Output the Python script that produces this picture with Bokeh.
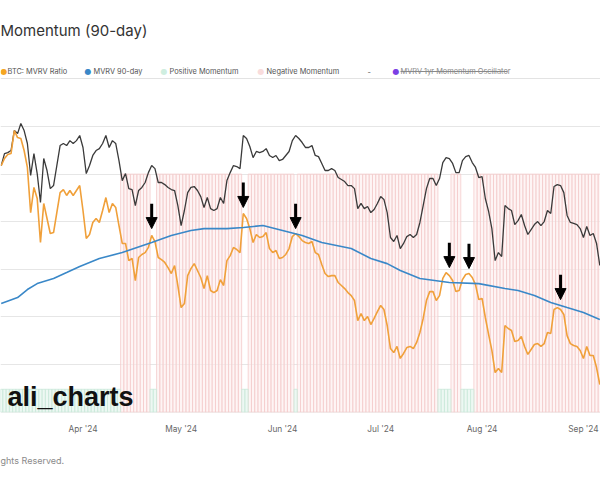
import numpy as np
import pandas as pd
from bokeh.plotting import figure
from bokeh.models import (ColumnDataSource, Range1d, Label, Arrow, NormalHead, Grid,
                          FixedTicker, MonthsTicker, DatetimeTickFormatter, Title)
from bokeh.embed import file_html
from bokeh.resources import INLINE

# ---------------- data ----------------
dates = pd.date_range("2024-03-07", periods=184, freq="D")

mvrv_ratio = [
    2.795, 2.832, 2.853, 2.858, 2.979, 2.942, 2.937, 2.874, 2.785, 2.548,
    2.680, 2.622, 2.391, 2.596, 2.517, 2.438, 2.443, 2.548, 2.653, 2.669,
    2.638, 2.664, 2.638, 2.664, 2.690, 2.559, 2.412, 2.433, 2.496, 2.517,
    2.496, 2.559, 2.627, 2.548, 2.596, 2.575, 2.480, 2.386, 2.386, 2.296,
    2.307, 2.191, 2.312, 2.328, 2.338, 2.365, 2.428, 2.396, 2.312, 2.301,
    2.286, 2.259, 2.228, 2.270, 2.165, 2.049, 2.070, 2.217, 2.254, 2.280,
    2.244, 2.207, 2.149, 2.217, 2.139, 2.128, 2.139, 2.196, 2.165, 2.296,
    2.322, 2.365, 2.354, 2.338, 2.543, 2.517, 2.464, 2.391, 2.433, 2.417,
    2.422, 2.443, 2.359, 2.338, 2.349, 2.307, 2.312, 2.328, 2.359, 2.422,
    2.438, 2.422, 2.401, 2.391, 2.386, 2.396, 2.338, 2.328, 2.275, 2.228,
    2.212, 2.217, 2.217, 2.181, 2.165, 2.149, 2.128, 2.112, 2.086, 1.981,
    2.018, 1.981, 2.002, 1.960, 1.992, 2.028, 2.060, 2.039, 1.955, 1.834,
    1.813, 1.845, 1.782, 1.808, 1.839, 1.845, 1.834, 1.866, 1.918, 1.992,
    2.086, 2.133, 2.133, 2.086, 2.112, 2.202, 2.233, 2.217, 2.191, 2.133,
    2.139, 2.196, 2.223, 2.228, 2.207, 2.170, 2.091, 2.097, 1.997, 1.908,
    1.824, 1.708, 1.729, 1.708, 1.955, 1.939, 1.929, 1.871, 1.876, 1.897,
    1.845, 1.803, 1.829, 1.855, 1.860, 1.845, 1.860, 1.918, 1.913, 2.039,
    2.049, 2.039, 2.013, 1.902, 1.860, 1.850, 1.845, 1.824, 1.782, 1.845,
    1.797, 1.797, 1.734, 1.645,
]

dark_series = [
    2.795, 2.858, 2.863, 2.874, 2.979, 2.963, 3.016, 2.979, 2.911, 2.743,
    2.858, 2.753, 2.601, 2.832, 2.769, 2.674, 2.690, 2.795, 2.900, 2.911,
    2.900, 2.926, 2.911, 2.926, 2.953, 2.890, 2.753, 2.795, 2.848, 2.874,
    2.884, 2.911, 2.953, 2.890, 2.926, 2.911, 2.821, 2.716, 2.753, 2.674,
    2.669, 2.585, 2.664, 2.680, 2.706, 2.758, 2.795, 2.779, 2.706, 2.706,
    2.695, 2.680, 2.669, 2.664, 2.585, 2.480, 2.559, 2.653, 2.680, 2.685,
    2.664, 2.632, 2.575, 2.627, 2.569, 2.559, 2.569, 2.627, 2.596, 2.716,
    2.758, 2.795, 2.790, 2.779, 2.953, 2.937, 2.895, 2.837, 2.869, 2.863,
    2.869, 2.884, 2.848, 2.837, 2.848, 2.821, 2.827, 2.848, 2.869, 2.926,
    2.953, 2.937, 2.916, 2.890, 2.890, 2.900, 2.848, 2.842, 2.806, 2.769,
    2.769, 2.779, 2.769, 2.732, 2.722, 2.711, 2.690, 2.690, 2.674, 2.569,
    2.596, 2.569, 2.580, 2.548, 2.564, 2.596, 2.632, 2.617, 2.548, 2.417,
    2.396, 2.428, 2.359, 2.386, 2.422, 2.433, 2.417, 2.433, 2.496, 2.585,
    2.674, 2.727, 2.727, 2.690, 2.727, 2.811, 2.837, 2.832, 2.806, 2.758,
    2.758, 2.821, 2.842, 2.848, 2.811, 2.785, 2.732, 2.737, 2.622, 2.554,
    2.464, 2.296, 2.338, 2.317, 2.585, 2.569, 2.559, 2.485, 2.506, 2.538,
    2.480, 2.433, 2.459, 2.485, 2.501, 2.480, 2.501, 2.559, 2.543, 2.685,
    2.695, 2.690, 2.653, 2.533, 2.496, 2.491, 2.485, 2.464, 2.417, 2.475,
    2.428, 2.438, 2.386, 2.270,
]

ma90_dates = ["2024-03-07", "2024-03-12", "2024-03-15", "2024-03-18", "2024-03-23",
              "2024-03-27", "2024-03-31", "2024-04-06", "2024-04-13", "2024-04-22",
              "2024-04-28", "2024-05-04", "2024-05-08", "2024-05-15", "2024-05-20",
              "2024-05-26", "2024-06-01", "2024-06-07", "2024-06-13", "2024-06-22",
              "2024-06-28", "2024-07-03", "2024-07-07", "2024-07-13", "2024-07-22",
              "2024-07-31", "2024-08-08", "2024-08-12", "2024-08-17", "2024-08-22",
              "2024-08-27", "2024-09-01", "2024-09-06"]
ma90_values = [2.070, 2.102, 2.144, 2.175, 2.202, 2.233, 2.265, 2.307, 2.338, 2.391,
               2.428, 2.454, 2.464, 2.464, 2.470, 2.480, 2.454, 2.428, 2.391, 2.359,
               2.307, 2.280, 2.244, 2.202, 2.181, 2.175, 2.149, 2.139, 2.112, 2.076,
               2.049, 2.023, 1.986]

positive_spans = [("2024-03-07", "2024-04-12"), ("2024-04-22", "2024-04-23"),
                  ("2024-05-20", "2024-05-21"), ("2024-06-05", "2024-06-05"),
                  ("2024-07-19", "2024-07-22"), ("2024-07-26", "2024-07-29")]

arrow_dates = ["2024-04-22", "2024-05-20", "2024-06-05", "2024-07-22", "2024-07-28", "2024-08-25"]
arrow_levels = [2.464, 2.575, 2.464, 2.259, 2.254, 2.091]

grid_levels = [1.5, 1.75, 2.0, 2.25, 2.5, 2.75, 3.0]
neg_bar_top = 2.75
pos_bar_top = 1.62
bar_base = 1.5

# ---------------- styles ----------------
ORANGE = "#f0a03a"
BLUE = "#3a88c8"
DARK = "#3a3a3a"
FONT = "Inter"

positive = np.zeros(len(dates), dtype=bool)
for s, e in positive_spans:
    positive |= (dates >= pd.Timestamp(s)) & (dates <= pd.Timestamp(e))

p = figure(width=600, height=484, x_axis_type="datetime", y_axis_location=None,
           output_backend="svg", toolbar_location=None,
           x_range=Range1d(pd.Timestamp("2024-03-06 18:43"), pd.Timestamp("2024-09-06 05:02")),
           y_range=Range1d(1.498, 3.662),
           min_border_left=0, min_border_right=0, min_border_top=0, min_border_bottom=72)
p.outline_line_color = None
p.background_fill_color = "white"
p.border_fill_color = "white"
p.xgrid.grid_line_color = None
p.ygrid.grid_line_color = None
p.add_layout(Grid(dimension=1, ticker=FixedTicker(ticks=grid_levels),
                  grid_line_color="#e6e6e6", grid_line_width=1))

xa = p.xaxis[0]
xa.ticker = MonthsTicker(months=list(range(12)))
xa.formatter = DatetimeTickFormatter(months="%b '%y", days="%b '%y")
xa.axis_line_color = None
xa.major_tick_line_color = None
xa.minor_tick_line_color = None
xa.major_tick_out = 0
xa.major_tick_in = 0
xa.major_label_standoff = 11
xa.major_label_text_font = FONT
xa.major_label_text_font_size = "8.3px"
xa.major_label_text_color = "#666666"

p.add_layout(Title(text="ghts Reserved.", align="left", text_font=FONT, text_font_size="9px",
                   text_color="#8a8a8a", text_font_style="normal", standoff=32), "below")

day_ms = 24 * 3600 * 1000
neg_src = ColumnDataSource(dict(x=dates[~positive]))
pos_src = ColumnDataSource(dict(x=dates[positive]))
p.vbar(x="x", width=day_ms, bottom=bar_base, top=neg_bar_top, source=neg_src,
       fill_color="#fdeeee", fill_alpha=0.6, line_color="#f4cccc", line_width=0.8)
p.vbar(x="x", width=day_ms, bottom=bar_base, top=pos_bar_top, source=pos_src,
       fill_color="#e6f5ee", fill_alpha=0.7, line_color="#c9e9d9", line_width=0.8)

p.line(dates, dark_series, line_color=DARK, line_width=1.3)
p.line(dates, mvrv_ratio, line_color=ORANGE, line_width=1.6)
p.line(pd.to_datetime(ma90_dates), ma90_values, line_color=BLUE, line_width=1.6)

arrow_src = ColumnDataSource(dict(x=pd.to_datetime(arrow_dates),
                                  y0=[v + 0.131 for v in arrow_levels],
                                  y1=arrow_levels))
p.add_layout(Arrow(end=NormalHead(size=11, fill_color="black", line_color="black"),
                   x_start="x", y_start="y0", x_end="x", y_end="y1", source=arrow_src,
                   line_color="black", line_width=3))

# ---------------- header / legend (screen px from frame bottom-left) ----------------
FB = 412  # frame bottom in canvas px


def lab(text, x, ytop, size, color, font=FONT, style="normal", baseline="middle"):
    p.add_layout(Label(x=x, y=FB - ytop, x_units="screen", y_units="screen", text=text,
                       text_font=font, text_font_size=size, text_color=color,
                       text_font_style=style, text_baseline=baseline, text_align="left"))


lab("Momentum (90-day)", 0, 30, "15px", "#333333")

legend_y = 71
for dx, col, txt, tx in [(0, "#f5a623", "BTC: MVRV Ratio", 7),
                         (84, BLUE, "MVRV 90-day", 93),
                         (160, "#cfeee0", "Positive Momentum", 169),
                         (257, "#f9dcdc", "Negative Momentum", 266),
                         (392, "#7b3fe4", "MVRV 1yr Momentum Oscillator", 400)]:
    lab("\u25CF", dx, legend_y, "8px", col, font="DejaVu Sans")
    lab(txt, tx, legend_y, "7.4px", "#8a8a8a" if tx == 400 else "#555555")
lab("-", 367, legend_y, "7.4px", "#555555")
p.add_layout(Arrow(end=None, x_start=400, y_start=FB - legend_y, x_end=507, y_end=FB - legend_y,
                   start_units="screen", end_units="screen", line_color="#8a8a8a", line_width=1))
p.add_layout(Arrow(end=None, x_start=0, y_start=FB - 78, x_end=600, y_end=FB - 78,
                   start_units="screen", end_units="screen", line_color="#e3e3e3", line_width=1))

lab("ali_charts", 7, 396, "27px", "#111111", font="Liberation Sans", style="bold",
    baseline="middle")

open("out.html", "w").write(file_html(p, INLINE))
